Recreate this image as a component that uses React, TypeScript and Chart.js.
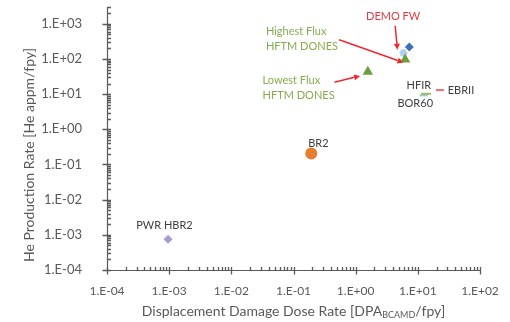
import React, { useEffect, useRef } from "react";
import { Chart, registerables } from "chart.js";

Chart.register(...registerables);

// ---- data ----
const facilities = ["DEMO FW", "Highest Flux HFTM DONES", "Lowest Flux HFTM DONES", "BR2", "PWR HBR2", "HFIR", "BOR60", "EBRII", "Other"];
const dpaRate = [7.3, 6.25, 1.57, 0.193, 0.00096, 13.5, 12.4, 22.6, 5.87];
const heRate = [217, 97, 43, 0.204, 0.00075, 10.2, 9.2, 13, 147];

const xMin = 1e-4;
const xMax = 1e2;
const yMin = 1e-4;
const yMax = 3000;

// annotation texts (anchored in data coordinates)
const labelTexts = ["DEMO FW", "Highest Flux", "HFTM DONES", "Lowest Flux", "HFTM DONES", "HFIR", "BOR60", "EBRII", "BR2", "PWR HBR2"];
const labelX = [4.0, 0.036, 0.036, 0.0318, 0.0318, 16.4, 4.7, 30.3, 0.252, 0.00084];
const labelY = [1615, 604, 226, 25, 9.1, 17.2, 5.4, 12.6, 0.385, 0.0019];

// arrows (start -> end, data coordinates)
const arrowX0 = [4.32, 0.543, 0.456];
const arrowY0 = [877, 351, 21.9];
const arrowX1 = [4.7, 5.87, 1.18];
const arrowY1 = [182, 79, 33];

// minor tick significands per decade
const minorSteps = [2, 3, 4, 5, 6, 7, 8, 9];

// ---- styles ----
const pointStyles = ["rectRot", "triangle", "triangle", "circle", "rectRot", "line", "line", "line", "star"];
const pointColors = ["#3E6FB8", "#6E9E3A", "#6E9E3A", "#E57E30", "#A99BD0", "#9BBB59", "#9DC3E6", "#E07070", "#B5CDEC"];
const pointRadii = [4.5, 6, 6, 6, 4.5, 5, 4, 4, 4];
const labelColors = ["#E03A44", "#86AC4E", "#86AC4E", "#86AC4E", "#86AC4E", "#404040", "#404040", "#404040", "#404040", "#404040"];
const labelAlign: CanvasTextAlign[] = ["center", "left", "left", "left", "left", "right", "left", "left", "center", "center"];

const FONT = "Lato, 'Open Sans', sans-serif";

const fmtExp = (v: number) => {
  const e = Math.round(Math.log10(v));
  return "1.E" + (e < 0 ? "-" : "+") + String(Math.abs(e)).padStart(2, "0");
};
const isMajor = (v: number) => {
  const l = Math.log10(v);
  return Math.abs(l - Math.round(l)) < 1e-6;
};

const axisPlugin = {
  id: "axisTicks",
  afterDraw(chart: any) {
    const ctx = chart.ctx;
    const area = chart.chartArea;
    const xs = chart.scales.x;
    const ys = chart.scales.y;
    const L = Math.round(area.left) + 0.5;
    const B = Math.round(area.bottom) + 0.5;
    ctx.save();
    ctx.strokeStyle = "#5a5a5a";
    ctx.lineWidth = 1.2;
    ctx.beginPath();
    ctx.moveTo(L, area.top);
    ctx.lineTo(L, B);
    ctx.lineTo(area.right, B);
    ctx.stroke();

    ctx.lineWidth = 1.3;
    ctx.beginPath();
    const xe0 = Math.round(Math.log10(xMin));
    const xe1 = Math.round(Math.log10(xMax));
    for (let e = xe0; e <= xe1; e++) {
      const base = Math.pow(10, e);
      const px = Math.round(xs.getPixelForValue(base)) + 0.5;
      ctx.moveTo(px, B - 3.5);
      ctx.lineTo(px, B + 4);
      if (e === xe1) continue;
      for (const s of minorSteps) {
        const mx = Math.round(xs.getPixelForValue(s * base)) + 0.5;
        ctx.moveTo(mx, B - 3.5);
        ctx.lineTo(mx, B);
      }
    }
    const ye0 = Math.round(Math.log10(yMin));
    const ye1 = Math.floor(Math.log10(yMax));
    for (let e = ye0; e <= ye1; e++) {
      const base = Math.pow(10, e);
      const py = Math.round(ys.getPixelForValue(base)) + 0.5;
      ctx.moveTo(L - 5, py);
      ctx.lineTo(L + 3.5, py);
      for (const s of minorSteps) {
        if (s * base > yMax) break;
        const my = Math.round(ys.getPixelForValue(s * base)) + 0.5;
        ctx.moveTo(L, my);
        ctx.lineTo(L + 3.5, my);
      }
    }
    ctx.stroke();

    // axis titles
    ctx.fillStyle = "#595959";
    ctx.textBaseline = "middle";
    ctx.save();
    ctx.translate(29, 155);
    ctx.rotate(-Math.PI / 2);
    ctx.font = `14px ${FONT}`;
    ctx.textAlign = "center";
    ctx.fillText("He Production Rate [He appm/fpy]", 0, 0);
    ctx.restore();
    const p1 = "Displacement Damage Dose Rate [DPA";
    const sub = "BCAMD";
    const p2 = "/fpy]";
    ctx.font = `14px ${FONT}`;
    const w1 = ctx.measureText(p1).width;
    const w3 = ctx.measureText(p2).width;
    ctx.font = `9px ${FONT}`;
    const w2 = ctx.measureText(sub).width;
    const total = w1 + w2 + w3;
    let x = (area.left + area.right) / 2 - total / 2;
    const y = 311;
    ctx.textAlign = "left";
    ctx.font = `14px ${FONT}`;
    ctx.fillText(p1, x, y);
    x += w1;
    ctx.font = `9px ${FONT}`;
    ctx.fillText(sub, x, y + 4);
    x += w2;
    ctx.font = `14px ${FONT}`;
    ctx.fillText(p2, x, y);
    ctx.restore();
  },
};

const annotationPlugin = {
  id: "annotations",
  afterDatasetsDraw(chart: any) {
    const ctx = chart.ctx;
    const xs = chart.scales.x;
    const ys = chart.scales.y;
    ctx.save();
    ctx.strokeStyle = "#F0282E";
    ctx.fillStyle = "#F0282E";
    ctx.lineWidth = 1.5;
    for (let i = 0; i < arrowX0.length; i++) {
      const x0 = xs.getPixelForValue(arrowX0[i]);
      const y0 = ys.getPixelForValue(arrowY0[i]);
      const x1 = xs.getPixelForValue(arrowX1[i]);
      const y1 = ys.getPixelForValue(arrowY1[i]);
      const a = Math.atan2(y1 - y0, x1 - x0);
      const hl = 6;
      const hw = 3;
      const bx = x1 - hl * Math.cos(a);
      const by = y1 - hl * Math.sin(a);
      ctx.beginPath();
      ctx.moveTo(x0, y0);
      ctx.lineTo(bx, by);
      ctx.stroke();
      ctx.beginPath();
      ctx.moveTo(x1, y1);
      ctx.lineTo(bx + hw * Math.sin(a), by - hw * Math.cos(a));
      ctx.lineTo(bx - hw * Math.sin(a), by + hw * Math.cos(a));
      ctx.closePath();
      ctx.fill();
    }
    ctx.font = `11px ${FONT}`;
    ctx.textBaseline = "middle";
    for (let i = 0; i < labelTexts.length; i++) {
      ctx.fillStyle = labelColors[i];
      ctx.textAlign = labelAlign[i];
      ctx.fillText(labelTexts[i], xs.getPixelForValue(labelX[i]), ys.getPixelForValue(labelY[i]));
    }
    ctx.restore();
  },
};

export default function App() {
  const ref = useRef<HTMLCanvasElement>(null);
  useEffect(() => {
    if (!ref.current) return;
    const datasets = facilities.map((name, i) => ({
      label: name,
      data: [{ x: dpaRate[i], y: heRate[i] }],
      pointStyle: pointStyles[i] as any,
      pointRadius: pointRadii[i],
      pointHoverRadius: pointRadii[i],
      backgroundColor: pointColors[i],
      borderColor: pointColors[i],
      borderWidth: pointStyles[i] === "line" || pointStyles[i] === "star" ? 2 : 0,
      showLine: false,
      clip: false as any,
    }));
    const chart = new Chart(ref.current, {
      type: "scatter",
      data: { datasets },
      options: {
        animation: false,
        responsive: true,
        maintainAspectRatio: false,
        layout: { padding: { left: 0, right: 30, top: 7, bottom: 0 } },
        plugins: { legend: { display: false }, tooltip: { enabled: false } },
        scales: {
          x: {
            type: "logarithmic",
            min: xMin,
            max: xMax,
            grid: { display: false },
            border: { display: false },
            afterFit: (s: any) => {
              s.height = 52;
              s.paddingLeft = 0;
              s.paddingRight = 0;
            },
            ticks: {
              autoSkip: false,
              maxRotation: 0,
              padding: 6,
              color: "#595959",
              font: { family: FONT, size: 12 },
              callback: (v: any) => (isMajor(Number(v)) ? fmtExp(Number(v)) : ""),
            },
          },
          y: {
            type: "logarithmic",
            min: yMin,
            max: yMax,
            grid: { display: false },
            border: { display: false },
            afterFit: (s: any) => {
              s.width = 107;
              s.paddingTop = 0;
              s.paddingBottom = 0;
            },
            ticks: {
              autoSkip: false,
              padding: 17,
              color: "#595959",
              font: { family: FONT, size: 13 },
              callback: (v: any) => (isMajor(Number(v)) ? fmtExp(Number(v)) : ""),
            },
          },
        },
      },
      plugins: [axisPlugin, annotationPlugin],
    });
    return () => chart.destroy();
  }, []);
  return (
    <div style={{ position: "fixed", left: 0, top: 0, width: 510, height: 322, background: "#fff" }}>
      <canvas ref={ref} />
    </div>
  );
}
